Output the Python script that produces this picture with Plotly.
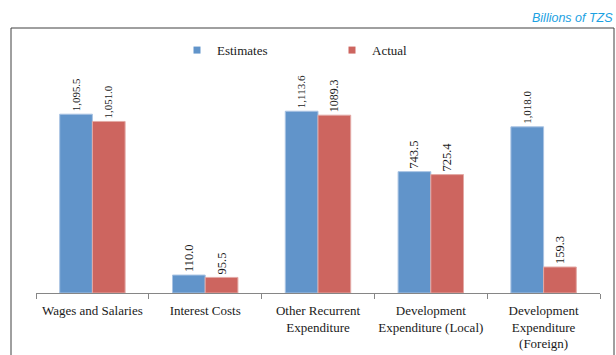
import plotly.graph_objects as go

categories = ["Wages and Salaries", "Interest Costs", "Other Recurrent<br>Expenditure",
              "Development<br>Expenditure (Local)", "Development<br>Expenditure<br>(Foreign)"]
estimates = [1095.5, 110.0, 1113.6, 743.5, 1018.0]
actual = [1051.0, 95.5, 1089.3, 725.4, 159.3]
estimates_labels = ["1,095.5", "110.0", "1,113.6", "743.5", "1,018.0"]
actual_labels = ["1,051.0", "95.5", "1089.3", "725.4", "159.3"]
series_names = ["Estimates", "Actual"]
series_colors = ["#6194CA", "#CD655F"]
outline_colors = ["#A9C3E3", "#E3A9A5"]

serif = "Liberation Serif, Times New Roman, serif"

fig = go.Figure()
for name, vals, labels, col, ocol in zip(series_names, [estimates, actual],
                                         [estimates_labels, actual_labels],
                                         series_colors, outline_colors):
    fig.add_trace(go.Bar(x=categories, y=vals, name=name, text=labels, showlegend=False,
                         textposition="outside", textangle=-90, cliponaxis=False,
                         marker=dict(color=col, line=dict(color=ocol, width=1)),
                         textfont=dict(family=serif, size=12.5, color="#1a1a1a")))
    # legend-only entry with a small square swatch
    fig.add_trace(go.Scatter(x=[None], y=[None], mode="markers", name=name,
                             marker=dict(symbol="square", size=7, color=col)))

fig.update_layout(
    width=616, height=355,
    margin=dict(l=36, r=16, t=40, b=62, autoexpand=False),
    paper_bgcolor="white", plot_bgcolor="white",
    barmode="group", bargap=0.42, bargroupgap=0,
    showlegend=True,
    legend=dict(orientation="h", x=0.25, xanchor="left", y=0.96, yanchor="middle",
                font=dict(family=serif, size=13, color="#1a1a1a"),
                entrywidth=110, entrywidthmode="pixels", bgcolor="rgba(0,0,0,0)",
                itemclick=False),
    font=dict(family=serif, size=13, color="#1a1a1a"),
)
fig.update_xaxes(showline=True, linecolor="#868686", linewidth=1, ticks="outside",
                 tickson="boundaries", ticklen=5, tickcolor="#868686", tickangle=0,
                 automargin=False, ticklabelstandoff=5,
                 tickfont=dict(family=serif, size=13, color="#1a1a1a"), showgrid=False)
fig.update_yaxes(visible=False, range=[0, 1550], showgrid=False)

fig.add_shape(type="rect", xref="paper", yref="paper",
              x0=(11 - 36) / 564, x1=(614 - 36) / 564,
              y0=(293 - 360) / 253, y1=(293 - 28) / 253,
              line=dict(color="#404040", width=1), layer="below")
fig.add_annotation(text="<i>Billions of TZS</i>", xref="paper", yref="paper",
                   x=(615 - 36) / 564, xanchor="right", y=(293 - 18) / 253, yanchor="middle",
                   showarrow=False, font=dict(family="Liberation Sans, Arial, sans-serif",
                                              size=12.5, color="#1BA1E2"))

fig.write_html("out.html")
